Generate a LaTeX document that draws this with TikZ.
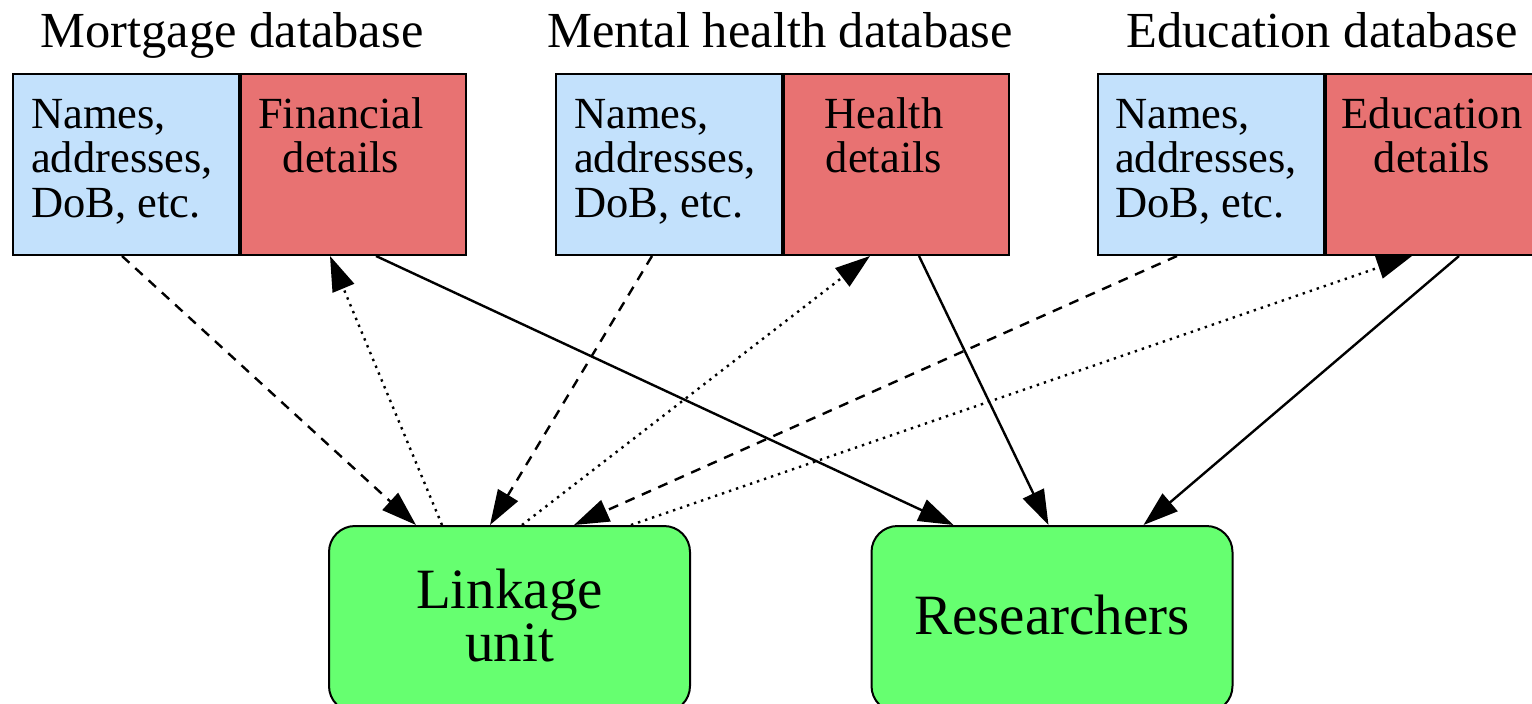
\documentclass[tikz,border=0pt]{standalone}
\usepackage{fontspec}
\setmainfont{LiberationSerif}[Extension=.ttf,UprightFont=*-Regular,BoldFont=*-Bold]
\usetikzlibrary{arrows.meta}
\definecolor{idblue}{RGB}{195,225,252}
\definecolor{detred}{RGB}{232,114,114}
\definecolor{unitgreen}{RGB}{102,255,112}

\begin{document}
\begin{tikzpicture}[x=1pt,y=-1pt,
  idpart/.style={draw,line width=2pt,fill=idblue,minimum width=226pt,minimum height=181pt,inner sep=0pt,anchor=north west},
  detpart/.style={draw,line width=2pt,fill=detred,minimum width=225pt,minimum height=181pt,inner sep=0pt,anchor=north west},
  unitbox/.style={draw,line width=2pt,fill=unitgreen,rounded corners=26pt,minimum width=361pt,minimum height=186pt,align=center,inner sep=0pt,text depth=8pt,anchor=north,font=\fontsize{57}{53}\selectfont},
  dbtitle/.style={anchor=base,font=\fontsize{50.5}{50.5}\selectfont},
  idtext/.style={anchor=north west,align=left,inner sep=0pt,font=\fontsize{44.5}{44.5}\selectfont},
  dettext/.style={anchor=north,align=center,inner sep=0pt,font=\fontsize{44.5}{44.5}\selectfont},
  link/.style={line width=2.4pt,-{Triangle[length=35pt,width=23pt]}},
  idlink/.style={link,dash pattern=on 10pt off 8pt},
  backlink/.style={link,dash pattern=on 2.4pt off 5pt}]
\path[use as bounding box] (0,0) rectangle (1532,704);
\clip (0,0) rectangle (1532,704);

% the three databases
\node[dbtitle] (mtitle) at (232,47) {Mortgage database};
\node[dbtitle] (htitle) at (780,47) {Mental health database};
\node[dbtitle] (etitle) at (1322,47) {Education database};

\node[idpart] (names1) at (12,73) {};
\node[detpart] (details1) at (names1.north east) {};
\node[idpart] (names2) at (555,73) {};
\node[detpart] (details2) at (names2.north east) {};
\node[idpart] (names3) at (1097,73) {};
\node[detpart] (details3) at (names3.north east) {};

\node[idtext] (nt1) at (31,97) {\strut Names,\\\strut addresses,\\\strut DoB, etc.};
\node[dettext] (dt1) at (341,97) {\strut Financial\\\strut details};
\node[idtext] (nt2) at (574,97) {\strut Names,\\\strut addresses,\\\strut DoB, etc.};
\node[dettext] (dt2) at (884,97) {\strut Health\\\strut details};
\node[idtext] (nt3) at (1115,97) {\strut Names,\\\strut addresses,\\\strut DoB, etc.};
\node[dettext] (dt3) at (1432,97) {\strut Education\\\strut details};

% who gets what
\node[unitbox] (linkage) at (509.5,525) {Linkage\\unit};
\node[unitbox] (research) at (1052,525) {Researchers};

\draw[idlink] ([xshift=110]names1.south west) -- ([xshift=88]linkage.north west);
\draw[backlink] ([xshift=114]linkage.north west) -- ([xshift=90]details1.south west);
\draw[link] ([xshift=136]details1.south west) -- ([xshift=83]research.north west);

\draw[idlink] ([xshift=97]names2.south west) -- ([xshift=162]linkage.north west);
\draw[backlink] ([xshift=194]linkage.north west) -- ([xshift=87]details2.south west);
\draw[link] ([xshift=136]details2.south west) -- ([xshift=178]research.north west);

\draw[idlink] ([xshift=80]names3.south west) -- ([xshift=246]linkage.north west);
\draw[backlink] ([xshift=303]linkage.north west) -- ([xshift=87]details3.south west);
\draw[link] ([xshift=134]details3.south west) -- ([xshift=273]research.north west);
\end{tikzpicture}
\end{document}
